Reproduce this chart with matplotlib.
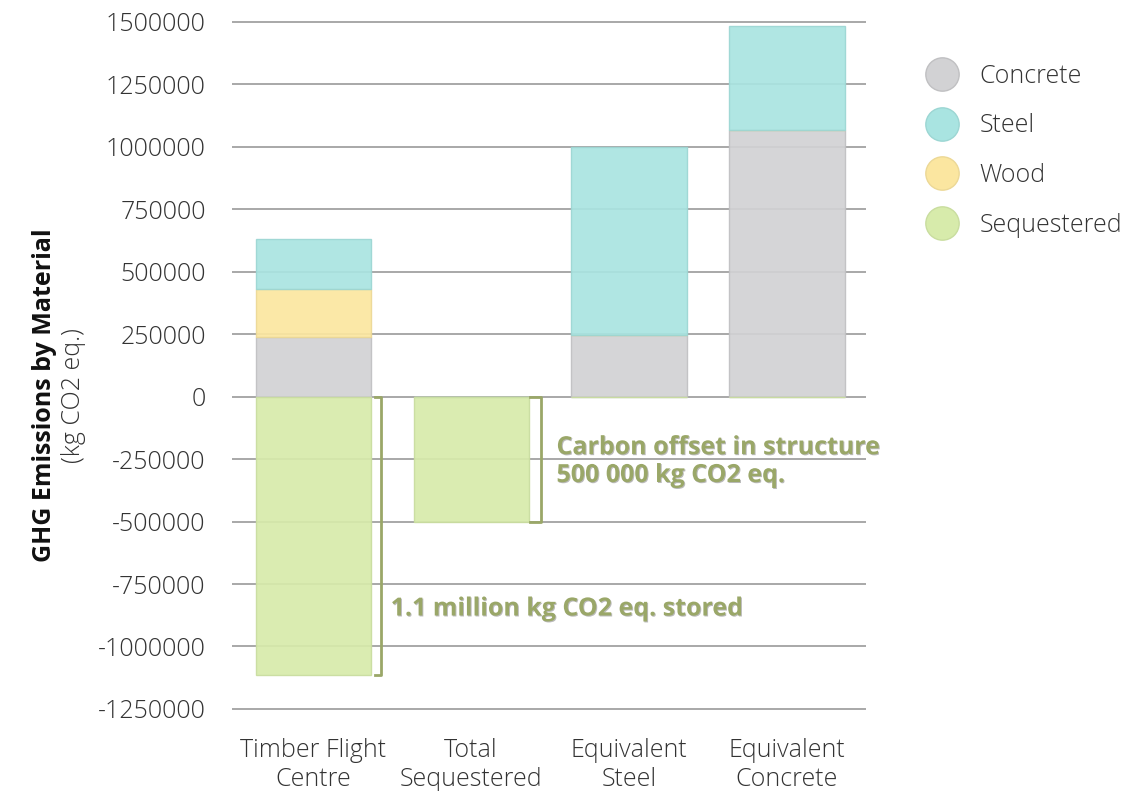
import numpy as np
import matplotlib.pyplot as plt
import matplotlib.patheffects as pe
from matplotlib.lines import Line2D

plt.rcParams['font.family'] = ['Open Sans', 'DejaVu Sans']

# data (kg CO2 eq.)
categories = ['Timber Flight\nCentre', 'Total\nSequestered', 'Equivalent\nSteel', 'Equivalent\nConcrete']
concrete = [237000, 0, 247000, 1068000]
wood = [195000, 0, 0, 0]
steel = [200000, 0, 754000, 414000]
sequestered = [-1113000, -500000, 0, 0]

colors = {'Concrete': '#d2d2d4', 'Steel': '#a9e4e1', 'Wood': '#fbe6a0', 'Sequestered': '#d7ebab'}
edges = {'Concrete': '#c0c0c2', 'Steel': '#9cd6d3', 'Wood': '#ecd896', 'Sequestered': '#c9dd9f'}
note_color = '#9aa768'

fig = plt.figure(figsize=(11.44, 7.91), dpi=100)
ax = fig.add_axes([0.203, 0.1, 0.554, 0.876])

x = np.arange(len(categories))
w = 0.73
bottom = np.zeros(len(categories))
for name, vals in [('Concrete', concrete), ('Wood', wood), ('Steel', steel)]:
    vals = np.array(vals)
    ax.bar(x, vals, w, bottom=bottom, color=colors[name], edgecolor=edges[name],
           linewidth=1, alpha=0.92, zorder=3)
    bottom += vals
ax.bar(x, sequestered, w, color=colors['Sequestered'], edgecolor=edges['Sequestered'],
       linewidth=1, alpha=0.92, zorder=3)

ax.set_ylim(-1262000, 1512000)
ax.set_xlim(-0.513, 3.5)
ax.set_yticks(np.arange(-1250000, 1500001, 250000))
ax.set_yticklabels([str(v) for v in range(-1250000, 1500001, 250000)], fontweight='light')
ax.set_xticks(x)
ax.set_xticklabels(categories, linespacing=1.2, fontweight='light')
ax.tick_params(axis='y', length=0, pad=19, labelsize=18, labelcolor='#333333')
ax.tick_params(axis='x', length=0, pad=19, labelsize=18, labelcolor='#333333')
ax.grid(axis='y', color='#9a9a9a', linewidth=1.2, zorder=0)
for s in ax.spines.values():
    s.set_visible(False)

# brackets for the sequestered carbon
def bracket(xr, xl, y0, y1):
    ax.plot([xl, xr, xr, xl], [y0, y0, y1, y1], color=note_color, linewidth=2, zorder=4)

bracket(0.43, 0.39, 0, sequestered[0])
bracket(1.44, 1.37, 0, sequestered[1])

shadow = [pe.withSimplePatchShadow(offset=(0.7, -0.7), shadow_rgbFace='#555555', alpha=0.4)]
ax.text(0.49, -850000, '1.1 million kg CO2 eq. stored', color=note_color, fontsize=18,
        fontweight='bold', va='center', ha='left', zorder=5, path_effects=shadow)
ax.text(1.54, -260000, 'Carbon offset in structure\n500 000 kg CO2 eq.', color=note_color,
        fontsize=18, fontweight='bold', va='center', ha='left', linespacing=1.15, zorder=5,
        path_effects=shadow)

# y label in two lines
fig.text(0.039, 0.5, 'GHG Emissions by Material', rotation=90, fontsize=18,
         fontweight='bold', ha='center', va='center', color='#111111')
fig.text(0.064, 0.5, '(kg CO2 eq.)', rotation=90, fontsize=18, fontweight='light',
         ha='center', va='center', color='#333333')

handles = [Line2D([], [], linestyle='none', marker='o', markersize=24,
                  markerfacecolor=colors[n], markeredgecolor=edges[n], label=n)
           for n in ['Concrete', 'Steel', 'Wood', 'Sequestered']]
fig.legend(handles=handles, loc='upper left', bbox_to_anchor=(0.782, 0.948), frameon=False,
           labelspacing=0.99, handletextpad=0.5, labelcolor='#333333',
           prop={'weight': 'light', 'size': 18})

fig.savefig('out.png', dpi=100)
